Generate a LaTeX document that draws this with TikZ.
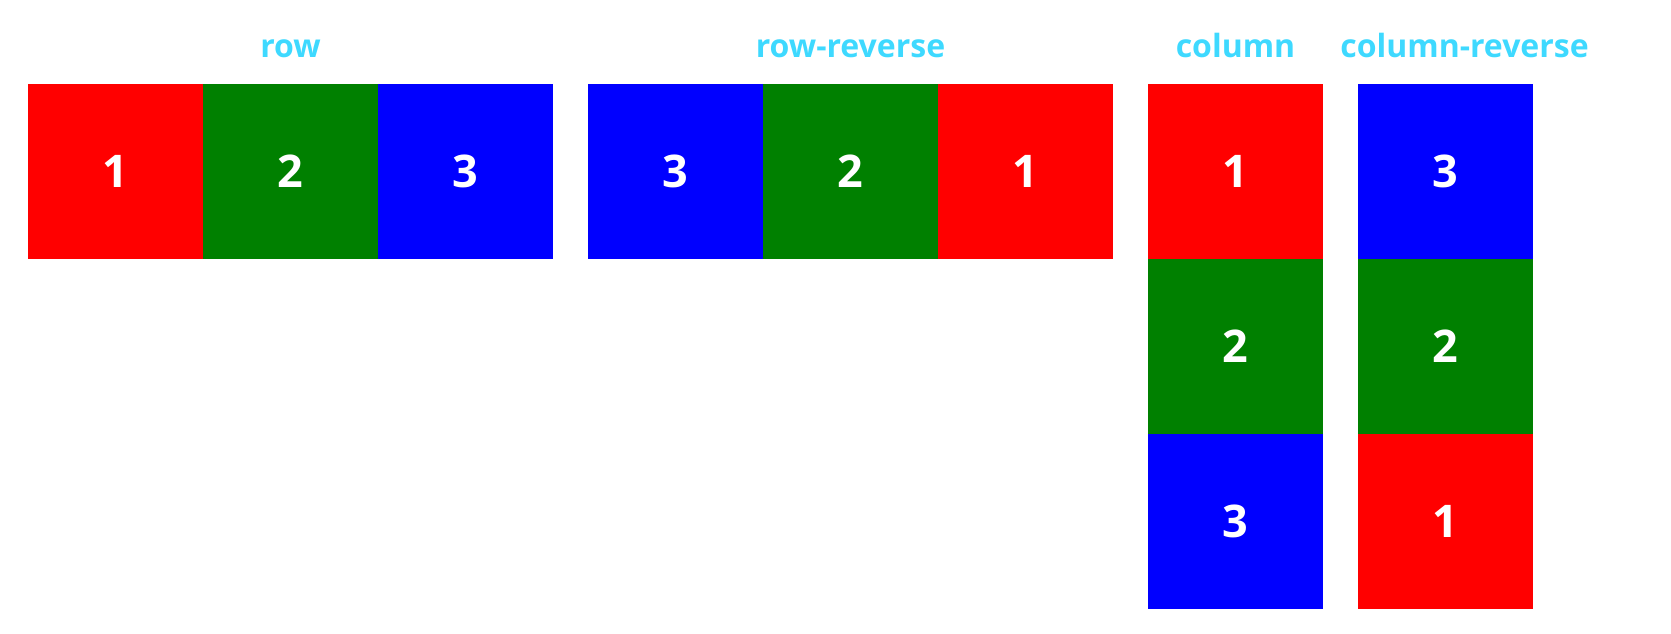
\documentclass[tikz,border=0pt]{standalone}
\usepackage{fontspec}
\setmainfont{Open Sans}
\usepackage{tikz}
\usetikzlibrary{matrix}
\definecolor{itemred}{RGB}{255,0,0}
\definecolor{itemgreen}{RGB}{0,128,0}
\definecolor{itemblue}{RGB}{0,0,255}
\definecolor{titlecyan}{RGB}{62,217,255}

\begin{document}
\begin{tikzpicture}[x=1pt, y=-1pt,
    flexbox/.style={matrix of nodes, ampersand replacement=\&, anchor=north west, inner sep=0pt, outer sep=0pt, row sep=0pt, column sep=0pt,
        nodes={minimum size=175pt, inner sep=0pt, outer sep=0pt, anchor=center, text=white, font=\fontsize{45}{45}\selectfont\bfseries}},
    flextitle/.style={anchor=base, inner sep=0pt, text=titlecyan, font=\fontsize{32}{32}\selectfont\bfseries}]
    \useasboundingbox (0,0) rectangle (1671,633);

    % flex-direction: row
    \matrix (row) [flexbox] at (28,84) {
    |[fill=itemred]| 1 \& |[fill=itemgreen]| 2 \& |[fill=itemblue]| 3 \\
    };
    % flex-direction: row-reverse
    \matrix (rowrev) [flexbox] at (588,84) {
    |[fill=itemblue]| 3 \& |[fill=itemgreen]| 2 \& |[fill=itemred]| 1 \\
    };
    % flex-direction: column
    \matrix (col) [flexbox] at (1148,84) {
    |[fill=itemred]| 1 \\
    |[fill=itemgreen]| 2 \\
    |[fill=itemblue]| 3 \\
    };
    % flex-direction: column-reverse
    \matrix (colrev) [flexbox] at (1358,84) {
    |[fill=itemblue]| 3 \\
    |[fill=itemgreen]| 2 \\
    |[fill=itemred]| 1 \\
    };

    % Titles above each container
    \node[flextitle] (rowtitle) at ([yshift=27pt]row.north) {row};
    \node[flextitle] (rowrevtitle) at ([yshift=27pt]rowrev.north) {row-reverse};
    \node[flextitle] (coltitle) at ([yshift=27pt]col.north) {column};
    \node[flextitle] (colrevtitle) at ([xshift=19pt, yshift=27pt]colrev.north) {column-reverse};
\end{tikzpicture}
\end{document}
